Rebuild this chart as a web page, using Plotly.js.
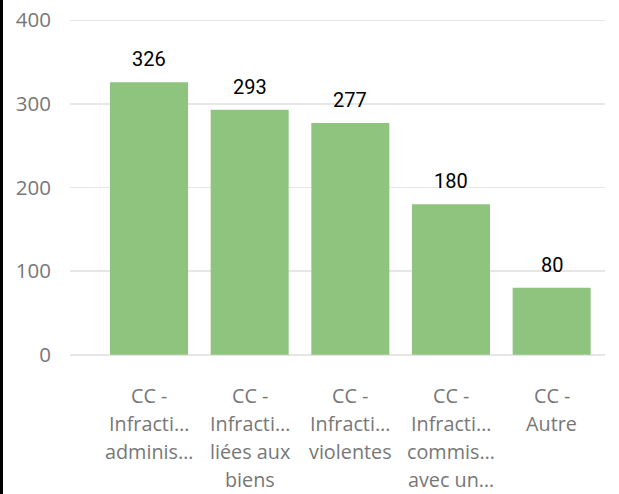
<!DOCTYPE html>
<html>
<head>
<meta charset="utf-8">
<script src="https://cdn.plot.ly/plotly-3.0.1.min.js"></script>
<style>
  html, body { margin: 0; padding: 0; background: #fff; overflow: hidden; }
  #chart { width: 619px; height: 494px; }
  #edge { position: absolute; left: 0; top: 0; width: 3px; height: 494px; background: #000; z-index: 10; }
</style>
</head>
<body>
<div id="edge"></div>
<div id="chart"></div>
<script>
const categories = [
  "CC -<br>Infracti…<br>adminis…",
  "CC -<br>Infracti…<br>liées aux<br>biens",
  "CC -<br>Infracti…<br>violentes",
  "CC -<br>Infracti…<br>commis…<br>avec un…",
  "CC -<br>Autre"
];
const values = [326, 293, 277, 180, 80];
const yTicks = [0, 100, 200, 300, 400];

const trace = {
  type: "bar",
  x: categories,
  y: values,
  marker: { color: "#8FC47F" },
  hoverinfo: "none"
};

const valueLabels = categories.map((c, i) => ({
  x: c,
  y: values[i],
  xref: "x",
  yref: "y",
  text: String(values[i]),
  showarrow: false,
  yanchor: "bottom",
  yshift: 9,
  font: { family: "Roboto, sans-serif", size: 20, color: "#000" }
}));

// category labels, one annotation per line for Power BI-like line spacing
const catLabels = [];
categories.forEach(c => {
  c.split("<br>").forEach((line, j) => {
    catLabels.push({
      x: c,
      xref: "x",
      y: 0,
      yref: "paper",
      text: line,
      showarrow: false,
      borderpad: 0,
      yanchor: "middle",
      yshift: -39 - 28 * j,
      font: { family: "Open Sans, sans-serif", size: 19.8, color: "#777" }
    });
  });
});

const layout = {
  width: 619,
  height: 494,
  margin: { l: 70, r: 14, t: 18.75, b: 137.75 },
  paper_bgcolor: "#fff",
  plot_bgcolor: "#fff",
  showlegend: false,
  bargap: 0.225,
  xaxis: {
    type: "category",
    range: [-0.785, 4.53],
    showgrid: false,
    zeroline: false,
    showline: false,
    ticks: "",
    showticklabels: false
  },
  yaxis: {
    range: [-1.5, 401.5],
    tickvals: yTicks,
    ticktext: yTicks.map(String),
    showgrid: true,
    gridcolor: "#E6E6E6",
    gridwidth: 1.5,
    zeroline: false,
    showline: false,
    ticks: "",
    ticklabelstandoff: 18,
    tickfont: { family: "Open Sans, sans-serif", size: 20.5, color: "#777" }
  },
  annotations: valueLabels.concat(catLabels)
};

Plotly.newPlot("chart", [trace], layout, { displayModeBar: false, staticPlot: true });
</script>
</body>
</html>
